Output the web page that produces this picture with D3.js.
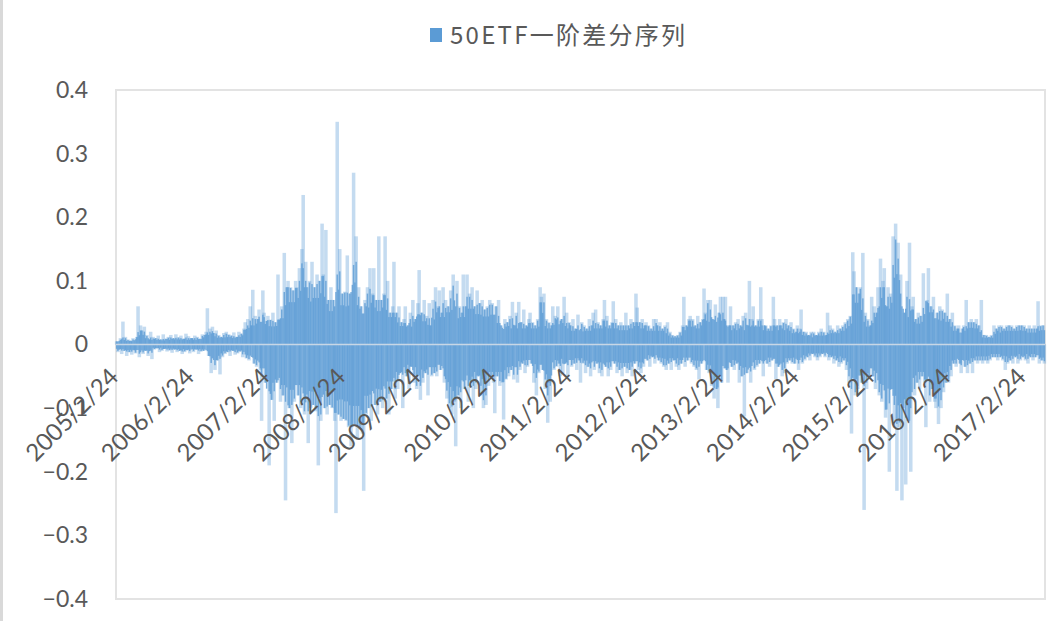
<!DOCTYPE html>
<html>
<head>
<meta charset="utf-8">
<script src="https://cdn.jsdelivr.net/npm/d3@7"></script>
<style>
  html, body { margin: 0; padding: 0; background: #ffffff; }
  svg { display: block; }
</style>
</head>
<body>
<svg id="chart" width="1050" height="621"></svg>
<script>
// ---- data (one value per ~week, per year starting 2/24) ----
const seriesName = "50ETF一阶差分序列";
const xLabels = ["2005/2/24","2006/2/24","2007/2/24","2008/2/24","2009/2/24","2010/2/24","2011/2/24","2012/2/24","2013/2/24","2014/2/24","2015/2/24","2016/2/24","2017/2/24"];
const yTicks = [0.4, 0.3, 0.2, 0.1, 0, -0.1, -0.2, -0.3, -0.4];

const v2005 = [0.005,-0.012,-0.008,0.010,-0.015,0.036,-0.010,0.012,-0.018,0.008,
  -0.012,0.006,-0.016,0.010,-0.009,-0.014,0.012,0.060,-0.020,0.030,
  0.022,-0.015,0.028,-0.010,0.015,-0.018,0.008,0.020,-0.023,0.012,
  -0.008,0.010,-0.006,0.014,-0.012,0.008,-0.010,0.016,-0.007,0.009,
  -0.011,0.012,-0.009,0.015,-0.013,0.010,-0.008,0.016,-0.012,0.011,
  -0.010,0.014,-0.015,0.009,-0.012,0.017,-0.009,0.013,-0.014,0.010];
const v2006 = [0.010,-0.012,0.014,-0.008,0.012,-0.015,0.009,-0.011,0.016,-0.010,
  0.015,0.020,0.057,-0.018,0.025,-0.045,0.028,0.018,-0.040,0.022,
  -0.025,0.015,-0.047,0.012,-0.020,0.018,-0.015,0.020,-0.012,0.016,
  -0.018,0.014,-0.010,0.019,-0.016,0.012,-0.014,0.020,-0.011,0.017,
  -0.020,0.025,0.035,-0.022,0.040,-0.025,0.060,0.030,0.086,-0.030,
  0.045,-0.035,0.040,0.055,-0.040,-0.120,0.085,0.050,-0.060,0.037];
const v2007 = [0.045,-0.190,0.039,-0.087,0.050,-0.120,0.035,-0.060,0.110,0.040,
  -0.090,0.060,-0.080,0.144,-0.245,0.090,0.100,-0.100,0.090,-0.155,
  0.085,-0.090,0.100,0.090,-0.080,0.120,-0.100,0.150,0.235,-0.110,
  0.130,0.090,-0.155,0.100,-0.100,0.130,-0.095,0.090,-0.105,0.110,
  -0.190,0.100,-0.120,0.190,0.110,-0.100,0.180,-0.110,0.070,-0.095,
  0.090,-0.100,0.070,-0.120,-0.265,0.350,-0.110,0.150,-0.120,0.080];
const v2008 = [-0.117,0.083,-0.120,0.140,-0.130,0.080,-0.160,-0.130,0.270,-0.125,
  0.170,-0.150,0.090,-0.130,0.060,-0.140,-0.230,0.070,-0.110,0.090,
  -0.100,0.120,-0.120,0.080,0.120,-0.095,0.070,-0.110,0.170,-0.090,
  0.070,-0.100,0.080,0.170,-0.085,0.100,-0.110,0.050,-0.070,0.060,
  0.130,-0.085,0.050,-0.070,0.060,-0.045,0.035,-0.100,0.040,0.060,
  -0.050,0.030,-0.070,0.050,-0.035,0.070,-0.060,0.040,-0.070,0.065];
const v2009 = [0.117,-0.087,0.050,-0.060,0.070,-0.045,0.045,-0.080,0.065,0.030,
  -0.050,0.070,-0.045,0.090,-0.050,0.060,0.085,-0.040,0.050,0.090,
  -0.060,0.070,-0.085,0.060,-0.100,0.085,-0.110,0.110,-0.090,-0.160,
  0.100,-0.080,0.060,-0.100,0.050,0.110,-0.070,0.060,0.110,-0.090,
  0.080,-0.060,0.090,-0.100,0.060,-0.070,0.085,-0.050,0.065,-0.080,
  0.070,-0.100,0.055,-0.095,0.060,-0.065,0.070,-0.050,0.065,-0.060];
const v2010 = [-0.108,0.060,-0.050,0.070,-0.065,0.030,-0.060,-0.118,0.040,-0.055,
  0.035,-0.050,0.045,-0.040,0.067,-0.055,0.030,0.050,-0.060,0.067,
  -0.040,0.035,-0.030,0.055,-0.045,0.030,-0.035,0.040,0.050,-0.030,
  0.035,-0.060,0.030,-0.080,0.040,-0.045,0.090,0.075,-0.040,0.080,
  -0.070,0.040,-0.123,0.035,-0.090,0.030,0.060,-0.040,0.045,-0.035,
  0.060,-0.030,-0.050,0.040,-0.045,0.075,-0.030,0.050,-0.050,0.035];
const v2011 = [0.030,-0.035,0.040,-0.030,0.025,-0.040,0.047,-0.025,-0.060,0.035,
  -0.030,0.030,-0.045,0.025,-0.035,0.040,-0.050,0.030,0.050,-0.040,
  0.055,-0.030,0.035,-0.045,0.030,-0.050,0.040,0.070,-0.035,0.045,
  -0.050,0.030,-0.040,0.035,0.068,-0.030,0.040,-0.045,0.030,-0.040,
  0.035,-0.050,0.030,-0.035,0.050,-0.045,0.030,-0.040,0.040,-0.050,
  0.035,-0.030,0.080,0.058,-0.040,0.035,-0.045,0.040,-0.035,0.030];
const v2012 = [0.035,-0.025,0.030,-0.035,0.025,-0.020,0.040,-0.030,0.040,0.030,
  -0.025,0.035,-0.030,0.025,-0.035,0.030,-0.040,0.035,-0.030,0.020,
  -0.040,0.015,-0.025,0.013,-0.035,0.015,-0.040,0.020,-0.030,0.030,
  0.075,-0.035,0.030,-0.025,0.040,0.045,-0.030,0.040,-0.035,0.030,
  -0.040,0.045,-0.055,0.035,-0.030,0.040,0.088,0.050,-0.040,0.070,
  -0.045,0.070,-0.065,0.040,-0.085,0.063,-0.070,-0.100,0.050,0.075];
const v2013 = [-0.060,0.075,0.040,0.075,-0.040,-0.060,0.030,0.060,-0.035,0.030,
  -0.040,0.035,-0.030,0.040,-0.060,0.030,-0.050,0.045,-0.113,0.050,
  -0.045,0.030,0.100,-0.060,0.040,0.060,-0.040,0.030,-0.035,0.040,
  -0.030,0.090,0.040,-0.050,0.030,0.030,-0.030,0.025,-0.035,0.030,
  -0.025,0.075,0.040,-0.055,0.030,-0.035,0.040,0.030,-0.050,0.035,
  -0.045,0.040,-0.030,0.030,-0.025,0.035,-0.030,0.025,-0.030,0.020];
const v2014 = [0.030,-0.040,0.025,0.055,-0.030,0.020,-0.025,0.020,-0.020,0.015,
  -0.025,0.020,-0.015,0.020,-0.020,0.015,-0.025,0.020,-0.020,0.025,
  -0.015,0.020,-0.020,0.015,0.050,-0.025,0.030,-0.020,0.025,-0.030,
  0.020,-0.025,0.030,-0.035,0.025,-0.030,0.030,-0.025,0.035,-0.040,
  0.040,-0.060,0.045,-0.140,0.145,0.115,-0.080,0.090,-0.070,0.080,
  0.090,-0.060,0.144,-0.260,0.050,-0.070,0.040,-0.050,0.030,0.075];
const v2015 = [-0.050,0.060,-0.070,0.050,0.090,-0.080,0.135,-0.090,0.100,0.120,
  -0.115,0.060,0.090,-0.200,0.080,-0.070,0.170,-0.120,0.190,-0.230,
  0.160,-0.130,0.110,-0.245,-0.100,0.050,-0.220,0.100,-0.120,0.160,
  -0.200,0.060,0.075,-0.080,0.040,-0.060,0.050,-0.070,0.045,-0.050,
  0.112,-0.060,-0.130,0.070,0.120,-0.090,0.060,-0.070,0.075,-0.090,
  -0.100,0.050,-0.125,0.060,-0.100,0.055,-0.075,0.050,-0.060,0.080];
const v2016 = [-0.060,0.040,-0.050,0.050,-0.030,0.030,-0.035,0.025,0.030,-0.030,
  -0.045,0.025,0.030,-0.035,0.070,-0.045,0.035,-0.030,0.040,-0.045,
  0.035,-0.025,0.040,-0.030,0.030,-0.025,0.070,-0.030,0.015,-0.025,
  0.015,-0.030,0.012,-0.025,0.015,-0.020,0.030,-0.020,0.025,-0.025,
  0.030,-0.020,0.030,-0.025,0.025,-0.040,0.030,-0.030,0.030,-0.025,
  0.030,-0.030,0.025,-0.020,0.030,-0.030,0.030,-0.025,0.030,-0.020];
const v2017 = [0.030,-0.025,0.025,-0.030,0.030,-0.020,0.025,-0.025,0.030,-0.020,
  0.025,0.068,-0.030,0.030,-0.025,0.030,-0.030];

const yearSeries = [v2005,v2006,v2007,v2008,v2009,v2010,v2011,v2012,v2013,v2014,v2015,v2016,v2017];

// ---- build ----
const values = [].concat(...yearSeries);
const yearStart = [];
{ let acc = 0; yearSeries.forEach(a => { yearStart.push(acc); acc += a.length; }); }

const svg = d3.select("#chart");
const W = 1050, H = 621;
const plot = { left: 116, right: 1045, top: 90, bottom: 599 };
const blue = "#5b9bd5";
const textGray = "#595959";

svg.append("rect").attr("x", 0).attr("y", 0).attr("width", W).attr("height", H).attr("fill", "#fff");
svg.append("line").attr("x1", 1.5).attr("x2", 1.5).attr("y1", 0).attr("y2", H)
  .attr("stroke", "#d9d9d9").attr("stroke-width", 3);

const x = d3.scaleBand().domain(d3.range(values.length)).range([plot.left, plot.right]).padding(0);
const y = d3.scaleLinear().domain([-0.4, 0.4]).range([plot.bottom, plot.top]);

svg.append("rect").attr("x", plot.left).attr("y", plot.top)
  .attr("width", plot.right - plot.left).attr("height", plot.bottom - plot.top)
  .attr("fill", "none").attr("stroke", "#e3e3e3").attr("stroke-width", 2);

// bars (thin daily-style bars drawn semi-transparent, as the dense original renders)
const step = x.step();
const barW = step * 2.8;
svg.append("g").selectAll("rect").data(values).join("rect")
  .attr("x", (d, i) => x(i) + step / 2 - barW / 2)
  .attr("width", barW)
  .attr("y", d => Math.min(y(d), y(0)))
  .attr("height", d => Math.abs(y(d) - y(0)))
  .attr("fill", blue)
  .attr("fill-opacity", 0.36);

// dense core: where neighbouring bars overlap, the original shows the full colour
const core = values.map((d, i) => {
  const win = values.slice(Math.max(0, i - 3), i + 4);
  const pos = win.filter(v => v > 0).sort(d3.ascending);
  const neg = win.filter(v => v < 0).map(v => -v).sort(d3.ascending);
  const qp = pos.length >= 2 ? d3.quantile(pos, 0.25) : 0;
  const qn = neg.length >= 2 ? d3.quantile(neg, 0.25) : 0;
  return {
    up: d > 0 ? Math.min(qp, d) : qp * 0.75,
    down: d < 0 ? -Math.min(qn, -d) : -qn * 0.75
  };
});
const gCore = svg.append("g");
gCore.selectAll("rect.up").data(core).join("rect").attr("class", "up")
  .attr("x", (d, i) => x(i) - 0.1).attr("width", step + 0.2)
  .attr("y", d => y(d.up)).attr("height", d => y(0) - y(d.up))
  .attr("fill", blue).attr("fill-opacity", 0.8);
gCore.selectAll("rect.down").data(core).join("rect").attr("class", "down")
  .attr("x", (d, i) => x(i) - 0.1).attr("width", step + 0.2)
  .attr("y", y(0)).attr("height", d => y(d.down) - y(0))
  .attr("fill", blue).attr("fill-opacity", 0.8);

// zero line (category axis)
svg.append("line").attr("x1", plot.left).attr("x2", plot.right)
  .attr("y1", y(0)).attr("y2", y(0))
  .attr("stroke", "#c8d7e6").attr("stroke-width", 1.5);

// y axis
const yAxis = d3.axisLeft(y).tickValues(yTicks).tickSize(0).tickPadding(28)
  .tickFormat(d => d === 0 ? "0" : d3.format(".1f")(d));
const gy = svg.append("g").attr("transform", `translate(${plot.left},0)`).call(yAxis);
gy.select(".domain").remove();
gy.selectAll("text").attr("fill", textGray).attr("font-size", 23)
  .attr("font-family", "Lato, 'Open Sans', sans-serif");

// x axis labels (rotated)
const xAxis = d3.axisBottom(x).tickValues(yearStart).tickSize(0)
  .tickFormat((d, i) => xLabels[i]);
const gx = svg.append("g").attr("transform", `translate(0,${y(0)})`).call(xAxis);
gx.select(".domain").remove();
gx.selectAll(".tick").attr("transform", d => `translate(${x(d)},0)`);
gx.selectAll("text")
  .attr("fill", textGray).attr("font-size", 24)
  .attr("font-family", "Lato, 'Open Sans', sans-serif")
  .attr("text-anchor", "end")
  .attr("dy", "0.7em")
  .attr("y", 0)
  .attr("transform", "translate(-8,22) rotate(-45)");

// legend / title
const lg = svg.append("g");
lg.append("rect").attr("x", 430).attr("y", 28).attr("width", 12).attr("height", 14).attr("fill", blue);
lg.append("text").attr("x", 450).attr("y", 44)
  .attr("fill", textGray).attr("font-size", 24)
  .attr("font-family", "'Noto Sans CJK SC', sans-serif")
  .attr("textLength", 235).attr("lengthAdjust", "spacing")
  .text(seriesName);
</script>
</body>
</html>
